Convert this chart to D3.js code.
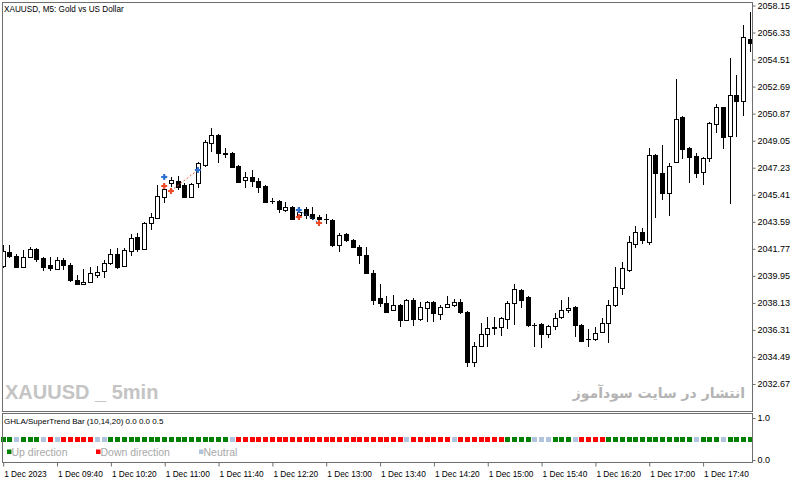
<!DOCTYPE html>
<html lang="en">
<head>
<meta charset="utf-8">
<script src="https://cdn.jsdelivr.net/npm/d3@7/dist/d3.min.js"></script>
<style>
    body { margin: 0; background: #fff; }
    svg text { font-family: "Liberation Sans", Arial, sans-serif; }
</style>
</head>
<body>
<div id="chart"></div>
<script>
// XAUUSD M5, 1 Dec 2023, bars from 09:00 onward
var startTime = new Date(2023, 11, 1, 9, 0);
var open  = [2040.61,2041.56,2041.29,2040.55,2041.22,2041.76,2041.15,2040.68,2040.41,2041.02,
             2040.68,2039.67,2039.40,2039.54,2040.01,2040.28,2040.81,2041.42,2040.61,2041.62,
             2042.57,2041.76,2043.51,2043.84,2045.26,2046.20,2046.34,2046.07,2045.26,2046.20,
             2047.41,2048.89,2049.43,2048.22,2048.22,2047.35,2046.40,2046.60,2046.34,2046.00,
             2044.99,2044.99,2044.38,2044.59,2044.05,2044.45,2044.11,2043.91,2043.78,2043.71,
             2042.03,2042.77,2042.36,2041.89,2041.35,2040.14,2038.46,2038.12,2037.65,2037.99,
             2036.98,2038.32,2037.05,2037.79,2038.19,2037.38,2037.85,2037.99,2038.19,2037.52,
             2034.15,2035.23,2036.04,2036.44,2036.51,2037.05,2038.12,2039.00,2038.53,2036.64,
             2036.71,2036.04,2036.57,2037.18,2037.65,2037.85,2036.64,2035.70,2035.70,2036.17,
             2036.78,2037.99,2039.13,2040.34,2042.09,2042.90,2042.23,2048.09,2046.87,2045.53,
             2047.61,2050.64,2048.56,2048.02,2046.94,2047.88,2050.17,2051.32,2049.37,2052.13,
             2051.72,2055.89];
var high  = [2042.03,2042.03,2041.42,2041.69,2041.89,2041.83,2041.22,2041.22,2041.22,2041.15,
             2040.81,2040.01,2040.41,2040.55,2040.61,2041.02,2041.76,2041.83,2041.83,2042.77,
             2042.83,2043.58,2044.18,2046.07,2046.20,2046.60,2046.67,2046.20,2046.20,2047.61,
             2049.10,2049.90,2049.50,2048.56,2048.29,2047.41,2046.94,2047.08,2046.54,2046.07,
             2045.19,2045.06,2044.92,2044.65,2044.59,2044.59,2044.59,2044.05,2044.11,2043.78,
             2042.83,2042.83,2042.43,2042.03,2041.89,2040.34,2039.40,2038.59,2038.66,2038.06,
             2038.39,2038.46,2038.19,2038.26,2038.26,2037.99,2038.59,2038.39,2038.39,2037.58,
             2035.50,2036.78,2037.18,2037.18,2037.18,2038.26,2039.40,2039.06,2038.59,2036.78,
             2036.78,2036.64,2037.45,2038.32,2038.53,2037.92,2036.71,2036.37,2036.51,2037.11,
             2038.32,2040.55,2040.88,2042.63,2043.31,2043.17,2048.56,2048.15,2048.76,2047.55,
             2053.20,2050.71,2048.62,2048.22,2047.95,2050.31,2051.52,2051.35,2054.62,2053.47,
             2056.84,2057.71];
var low   = [2040.48,2041.15,2040.48,2040.48,2041.15,2040.88,2040.28,2040.28,2040.34,2040.34,
             2039.54,2039.33,2039.33,2039.47,2039.81,2039.81,2040.68,2040.41,2040.55,2041.29,
             2041.56,2041.69,2043.04,2043.78,2044.85,2045.93,2045.73,2045.19,2045.19,2045.86,
             2047.28,2048.29,2047.55,2047.88,2047.21,2046.20,2045.86,2045.93,2045.53,2044.85,
             2044.79,2044.18,2044.25,2043.71,2043.71,2043.78,2043.71,2043.64,2043.44,2041.89,
             2041.56,2042.23,2041.83,2040.75,2040.07,2037.99,2037.85,2037.45,2037.58,2036.51,
             2036.91,2036.57,2036.91,2036.84,2036.84,2036.98,2037.79,2037.85,2037.38,2033.81,
             2033.81,2035.16,2035.16,2035.97,2035.90,2036.37,2036.64,2037.79,2036.51,2035.16,
             2035.09,2035.77,2036.30,2037.05,2037.45,2035.83,2035.50,2035.16,2035.56,2036.10,
             2035.43,2037.85,2038.66,2040.21,2041.83,2042.09,2042.03,2043.84,2045.06,2043.98,
             2047.55,2047.82,2046.20,2046.54,2046.07,2047.61,2049.57,2048.49,2044.79,2049.30,
             2050.71,2055.02];
var close = [2041.62,2041.29,2040.55,2041.22,2041.76,2041.08,2040.55,2040.48,2041.02,2040.68,
             2039.67,2039.40,2039.54,2040.14,2040.21,2040.81,2041.42,2040.55,2041.69,2042.50,
             2041.76,2043.51,2043.91,2045.33,2045.80,2046.40,2045.93,2045.26,2046.13,2047.55,
             2048.96,2049.43,2048.22,2048.15,2047.28,2046.27,2046.60,2046.34,2045.93,2044.92,
             2044.96,2044.45,2044.59,2043.78,2044.25,2044.05,2043.84,2043.78,2043.75,2042.03,
             2042.70,2042.36,2041.89,2041.35,2040.14,2038.32,2038.12,2037.52,2037.99,2036.98,
             2038.32,2037.05,2037.85,2038.19,2037.45,2037.85,2038.06,2038.19,2037.52,2034.15,
             2035.23,2036.04,2036.44,2036.51,2037.11,2038.12,2039.06,2038.32,2036.64,2036.61,
             2036.04,2036.57,2037.11,2037.65,2037.79,2036.64,2035.56,2035.67,2036.10,2036.78,
             2037.99,2039.20,2040.48,2042.23,2042.90,2042.36,2048.09,2046.87,2045.53,2047.35,
             2050.51,2048.49,2047.95,2046.87,2047.88,2050.24,2051.32,2049.30,2052.13,2051.72,
             2056.03,2055.63];

// GHLA/SuperTrend bar state: 1 up, -1 down, 0 neutral
var trend = [1,1,0,1,1,1,0,-1,0,-1,-1,-1,-1,-1,0,0,
             1,1,1,1,1,1,1,1,1,1,1,1,1,1,1,1,1,1,0,
             -1,-1,-1,-1,-1,-1,-1,-1,-1,-1,-1,-1,-1,-1,-1,-1,-1,-1,-1,-1,-1,-1,-1,-1,-1,0,
             -1,-1,-1,-1,-1,-1,0,-1,-1,-1,-1,-1,-1,-1,
             1,1,1,1,0,0,0,1,1,1,0,-1,-1,-1,-1,
             1,1,1,1,1,1,1,1,1,1,1,1,1,0,1,1,1,0,1,1,1,1];

// trade arrows drawn on the chart
var buyBars    = [24, 29, 44];
var buyPrices  = [2046.60, 2047.08, 2044.38];
var sellBars   = [24, 25, 44, 47];
var sellPrices = [2046.00, 2045.66, 2043.91, 2043.51];
var tradeLines = [{from: [25, 2045.66], to: [29, 2047.08], color: "#f0603c"},
                  {from: [44, 2044.38], to: [47, 2043.51], color: "#2c6fd0"}];

var priceTicks = [2058.15, 2056.33, 2054.51, 2052.69, 2050.87, 2049.05, 2047.23, 2045.41,
                  2043.59, 2041.77, 2039.95, 2038.13, 2036.31, 2034.49, 2032.67];
var timeTicks  = ["09:00", "09:40", "10:20", "11:00", "11:40", "12:20", "13:00",
                  "13:40", "14:20", "15:00", "15:40", "16:20", "17:00", "17:40"];
var trendNames  = ["Up direction", "Down direction", "Neutral"];
var trendColors = {"1": "#008000", "-1": "#ff0000", "0": "#b0c4de"};

var W = 800, H = 481;
var frame = {left: 2.5, right: 752.5, top: 2.5, mainBottom: 411.5, indTop: 413.5, indBottom: 462.5};

var barTimes = open.map(function(d, i) { return new Date(+startTime + i * 5 * 60000); });

var x = d3.scaleTime()
    .domain([barTimes[0], barTimes[barTimes.length - 1]])
    .range([2.7, 749.7]);
var y = d3.scaleLinear().domain([2058.15, 2032.67]).range([5.5, 384]);
var yInd = d3.scaleLinear().domain([0, 1]).range([460, 418]);

var svg = d3.select("#chart").append("svg")
    .attr("width", W)
    .attr("height", H);

svg.append("defs").append("clipPath").attr("id", "main-clip")
    .append("rect")
    .attr("x", frame.left + 0.5).attr("y", frame.top + 0.5)
    .attr("width", frame.right - frame.left - 1).attr("height", frame.mainBottom - frame.top - 1);

// watermark texts
svg.append("text")
    .attr("x", 5).attr("y", 399)
    .style("font-family", "'Liberation Sans', Arial, sans-serif")
    .style("font-weight", "bold")
    .style("font-size", "20px")
    .attr("fill", "#c4c4c4")
    .text("XAUUSD _ 5min");
svg.append("text")
    .attr("x", 745).attr("y", 398)
    .attr("text-anchor", "start")
    .attr("direction", "rtl")
    .style("font-family", "'DejaVu Sans', sans-serif")
    .style("font-weight", "bold")
    .style("font-size", "14px")
    .attr("fill", "#b4b4b4")
    .text("انتشار در سایت سودآموز");

// candles
var g = svg.append("g").attr("clip-path", "url(#main-clip)");
var bars = g.selectAll("g.bar")
    .data(open.map(function(d, i) { return i; }))
    .enter().append("g");

bars.append("line")
    .attr("x1", function(i) { return Math.round(x(barTimes[i])) + 0.5; })
    .attr("x2", function(i) { return Math.round(x(barTimes[i])) + 0.5; })
    .attr("y1", function(i) { return Math.round(y(high[i])); })
    .attr("y2", function(i) { return Math.round(y(low[i])); })
    .attr("stroke", "#000")
    .attr("stroke-width", 1);

bars.append("rect")
    .attr("x", function(i) { return Math.round(x(barTimes[i])) - 1.5; })
    .attr("y", function(i) { return Math.round(y(Math.max(open[i], close[i]))) + 0.5; })
    .attr("width", 4)
    .attr("height", function(i) {
        return Math.max(0.01, Math.round(y(Math.min(open[i], close[i]))) - Math.round(y(Math.max(open[i], close[i]))));
    })
    .attr("fill", function(i) { return close[i] >= open[i] ? "#fff" : "#000"; })
    .attr("stroke", "#000")
    .attr("stroke-width", 1);

// trade lines and arrows
tradeLines.forEach(function(t) {
    g.append("line")
        .attr("x1", x(barTimes[t.from[0]])).attr("y1", y(t.from[1]))
        .attr("x2", x(barTimes[t.to[0]])).attr("y2", y(t.to[1]))
        .attr("stroke", t.color)
        .attr("stroke-width", 1)
        .attr("stroke-dasharray", "2,2");
});

function drawMarks(bs, ps, color) {
    bs.forEach(function(b, k) {
        var cx = x(barTimes[b]), cy = y(ps[k]);
        g.append("path")
            .attr("d", "M" + (cx - 3) + "," + cy + "H" + (cx + 3) + "M" + cx + "," + (cy - 3) + "V" + (cy + 3))
            .attr("stroke", color)
            .attr("stroke-width", 2);
        g.append("circle").attr("cx", cx).attr("cy", cy).attr("r", 1.8).attr("fill", color);
    });
}
drawMarks(buyBars, buyPrices, "#2c6fd0");
drawMarks(sellBars, sellPrices, "#f04a28");

// title
svg.append("text")
    .attr("x", 4).attr("y", 12)
    .style("font-size", "8.2px")
    .attr("fill", "#000")
    .text("XAUUSD, M5:  Gold vs US Dollar");

// indicator pane
svg.append("text")
    .attr("x", 4).attr("y", 424)
    .style("font-size", "8px")
    .attr("fill", "#000")
    .text("GHLA/SuperTrend Bar (10,14,20) 0.0 0.0 0.5");

svg.append("g").selectAll("rect")
    .data(trend)
    .enter().append("rect")
    .attr("x", function(d, i) { return Math.round(x(barTimes[i])) - 2; })
    .attr("y", Math.round(yInd(0.5)) - 2)
    .attr("width", 5).attr("height", 5)
    .attr("fill", function(d) { return trendColors[d]; });

var legendX = [7, 96, 199];
var legendKeys = ["1", "-1", "0"];
trendNames.forEach(function(name, k) {
    svg.append("rect")
        .attr("x", legendX[k]).attr("y", 449.5)
        .attr("width", 4.5).attr("height", 4.5)
        .attr("fill", trendColors[legendKeys[k]]);
    svg.append("text")
        .attr("x", legendX[k] + 4.5).attr("y", 456)
        .style("font-size", "10.5px")
        .attr("fill", "#a8a8a8")
        .text(name);
});

// frames
var frameColor = "#6e6e6e";
svg.append("rect")
    .attr("x", frame.left).attr("y", frame.top)
    .attr("width", frame.right - frame.left).attr("height", frame.mainBottom - frame.top)
    .attr("fill", "none").attr("stroke", frameColor);
svg.append("rect")
    .attr("x", frame.left).attr("y", frame.indTop)
    .attr("width", frame.right - frame.left).attr("height", frame.indBottom - frame.indTop)
    .attr("fill", "none").attr("stroke", frameColor);

// price axis
var yAxis = svg.append("g")
    .attr("transform", "translate(" + frame.right + ",0)")
    .call(d3.axisRight(y).tickValues(priceTicks).tickSize(3).tickPadding(2).tickFormat(d3.format(".2f")));
yAxis.select(".domain").remove();
yAxis.selectAll("line").attr("stroke", frameColor);
yAxis.selectAll("text").style("font-size", "9px").style("font-family", "'Liberation Sans', Arial, sans-serif").attr("fill", "#000");

var indAxis = svg.append("g")
    .attr("transform", "translate(" + frame.right + ",0)")
    .call(d3.axisRight(yInd).tickValues([0, 1]).tickSize(3).tickPadding(2).tickFormat(d3.format(".1f")));
indAxis.select(".domain").remove();
indAxis.selectAll("line").attr("stroke", frameColor);
indAxis.selectAll("text").style("font-size", "9px").style("font-family", "'Liberation Sans', Arial, sans-serif").attr("fill", "#000");

// time axis
var parseHM = d3.timeParse("%Y-%m-%d %H:%M");
var tickDates = timeTicks.map(function(t) { return parseHM("2023-12-01 " + t); });
var xAxis = svg.append("g")
    .attr("transform", "translate(0," + frame.indBottom + ")")
    .call(d3.axisBottom(x).tickValues(tickDates).tickSize(4)
        .tickFormat(function(d, i) { return i === 0 ? "1 Dec 2023" : d3.timeFormat("1 Dec %H:%M")(d); }));
xAxis.select(".domain").remove();
xAxis.selectAll("line")
    .attr("stroke", frameColor)
    .attr("transform", function() { return "translate(0.5,0)"; });
xAxis.selectAll("text")
    .attr("text-anchor", "start")
    .attr("x", 1)
    .attr("dy", "0.9em")
    .style("font-size", "8.3px")
    .style("font-family", "'Liberation Sans', Arial, sans-serif")
    .attr("fill", "#000");
</script>
</body>
</html>
